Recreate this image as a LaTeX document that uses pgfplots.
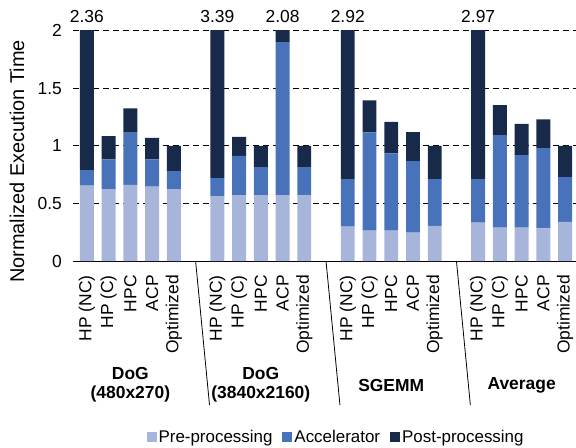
\documentclass[border=0pt]{standalone}
\usepackage{fontspec}
\setmainfont{Liberation Sans}
\usepackage{pgfplots}
\pgfplotsset{compat=1.18}
\usepackage{pgfplotstable}
\definecolor{cpre}{RGB}{168,181,218}
\definecolor{cacc}{RGB}{72,114,185}
\definecolor{cpost}{RGB}{23,42,74}

\pgfplotstableread{
x pre acc post
0 0.654 0.136 1.570
1 0.625 0.258 0.202
2 0.662 0.452 0.211
3 0.645 0.238 0.187
4 0.625 0.155 0.220
6 0.564 0.156 2.670
7 0.573 0.341 0.165
8 0.573 0.243 0.184
9 0.573 1.327 0.180
10 0.573 0.243 0.184
12 0.298 0.414 2.208
13 0.263 0.854 0.278
14 0.263 0.672 0.274
15 0.246 0.622 0.252
16 0.306 0.406 0.288
18 0.333 0.379 2.258
19 0.289 0.805 0.260
20 0.289 0.631 0.270
21 0.284 0.697 0.249
22 0.339 0.390 0.271
}\data

\newcommand{\lbl}{\fontsize{17.5}{20}\selectfont}
\newcommand{\ylfont}{\fontsize{20}{22}\selectfont}
\newcommand{\lgfont}{\fontsize{17}{20}\selectfont}
\newcommand{\grfont}{\fontsize{17.5}{19}\selectfont\bfseries}

\begin{document}
\begin{tikzpicture}
\begin{axis}[
  scale only axis, width=503bp, height=230.3bp,
  xmin=-0.64, xmax=22.5, ymin=0, ymax=2,
  ybar stacked, bar width=0.64,
  clip mode=individual,
  axis x line*=bottom, axis y line*=left,
  y axis line style={draw=none},
  x axis line style={black, line width=0.8bp},
  tick style={draw=none},
  ytick={0,0.5,1,1.5},
  extra y ticks={2},
  extra y tick style={grid style={gray!80, dash pattern=on 6bp off 4bp, line width=0.8bp}},
  ymajorgrids,
  major grid style={black, dash pattern=on 6bp off 4bp, line width=0.8bp},
  /pgf/number format/assume math mode=true,
  tick label style={font=\lbl},
  yticklabel style={inner sep=0pt, xshift=-11bp},
  xtick={0,1,2,3,4,6,7,8,9,10,12,13,14,15,16,18,19,20,21,22},
  xticklabels={HP (NC),HP (C),HPC,ACP,Optimized,HP (NC),HP (C),HPC,ACP,Optimized,HP (NC),HP (C),HPC,ACP,Optimized,HP (NC),HP (C),HPC,ACP,Optimized},
  xticklabel style={rotate=90, anchor=east, inner sep=0pt},
  xticklabel shift=14bp,
  ylabel={Normalized Execution Time},
  ylabel style={at={(axis description cs:-0.1113,0.432)}, anchor=center, font=\ylfont},
  legend columns=3,
  legend style={at={(axis description cs:0.522,-0.764)}, anchor=center, draw=none, font=\lgfont, inner sep=0pt,
    nodes={inner sep=1bp},
    /tikz/every odd column/.append style={column sep=1bp},
    /tikz/every even column/.append style={column sep=9bp}},
  legend image code/.code={\fill[#1] (0bp,-5bp) rectangle (10bp,5bp);},
]
\addplot[fill=cpre, draw=none] table[x=x, y=pre]{\data};
\addlegendentry{Pre-processing}
\addplot[fill=cacc, draw=none] table[x=x, y=acc]{\data};
\addlegendentry{Accelerator}
\addplot[fill=cpost, draw=none] table[x=x, y=post]{\data};
\addlegendentry{Post-processing}

\draw[black, line width=0.8bp] (axis cs:5,0) -- ++(0,-144bp);
\draw[black, line width=0.8bp] (axis cs:11,0) -- ++(0,-144bp);
\draw[black, line width=0.8bp] (axis cs:17,0) -- ++(0,-144bp);

\node[anchor=base, yshift=8.7bp, font=\lbl] at (axis cs:0,2) {2.36};
\node[anchor=base, yshift=8.7bp, font=\lbl] at (axis cs:6,2) {3.39};
\node[anchor=base, yshift=8.7bp, font=\lbl] at (axis cs:9,2) {2.08};
\node[anchor=base, yshift=8.7bp, font=\lbl] at (axis cs:12,2) {2.92};
\node[anchor=base, yshift=8.7bp, font=\lbl] at (axis cs:18,2) {2.97};

\node[align=center, yshift=-124bp, font=\grfont] at (axis cs:2,0) {DoG\\(480x270)};
\node[align=center, yshift=-124bp, font=\grfont] at (axis cs:8,0) {DoG\\(3840x2160)};
\node[align=center, yshift=-124bp, font=\grfont] at (axis cs:14,0) {SGEMM};
\node[align=center, yshift=-124bp, font=\grfont] at (axis cs:20,0) {Average};

\coordinate (O) at (rel axis cs:0,0);
\end{axis}
\pgfresetboundingbox
\path[use as bounding box] (O) ++(-73bp,-187bp) rectangle ++(576bp,448bp);
\end{tikzpicture}
\end{document}
